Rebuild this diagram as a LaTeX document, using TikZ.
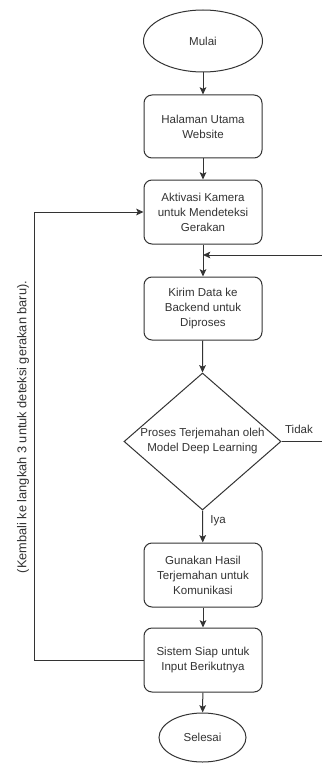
\documentclass[tikz,border=0pt]{standalone}
\usepackage{fontspec}
\setmainfont{Liberation Sans}
\usetikzlibrary{shapes.geometric,arrows.meta}
\definecolor{ln}{HTML}{333333}
\definecolor{tx}{HTML}{333333}
\begin{document}
\begin{tikzpicture}[x=0.75pt,y=-0.75pt,
  every node/.style={font=\fontsize{8.65}{11.25}\selectfont, text=tx},
  procbox/.style={draw=ln, line width=0.75pt, rounded corners=6pt, minimum width=88.5pt, minimum height=48pt, align=center, inner sep=0pt},
  term/.style={draw=ln, line width=0.75pt, ellipse, inner sep=0pt, align=center},
  conn/.style={draw=ln, line width=0.75pt},
  arr/.style={conn, -{Stealth[length=5.5pt,width=5pt,inset=1.2pt]}}]
\useasboundingbox (0,0) rectangle (321,763);
\fill[white] (0,0) rectangle (321,763);
\node[term, minimum width=89.25pt, minimum height=46.5pt] (mulai) at (203,41) {Mulai};
\node[procbox, minimum height=47.25pt] (hal) at (203,126.5) {Halaman Utama\\Website};
\node[procbox] (akt) at (203,212) {Aktivasi Kamera\\untuk Mendeteksi\\Gerakan};
\node[procbox, minimum height=47.25pt] (kir) at (203,308.5) {Kirim Data ke\\Backend untuk\\Diproses};
\node[diamond, draw=ln, line width=0.75pt, minimum width=117.75pt, minimum height=102.75pt, inner sep=0pt] (dec) at (202.5,441.5) {};
\node[align=center] (dectext) at (202.5,441.5) {Proses Terjemahan oleh\\Model Deep Learning};
\node[procbox] (gun) at (203,575) {Gunakan Hasil\\Terjemahan untuk\\Komunikasi};
\node[procbox] (sis) at (203,660) {Sistem Siap untuk\\Input Berikutnya};
\node[term, minimum width=65.25pt, minimum height=36.75pt] (sel) at (202.5,737.5) {Selesai};
\node (tidak) at (299,429) {Tidak};
\node (iya) at (218,521) {Iya};
\node[rotate=90, font=\fontsize{9.6}{11.5}\selectfont] (kembali) at (23,427) {(Kembali ke langkah 3 untuk deteksi gerakan baru).};
\coordinate (r1) at (330,441.5);
\coordinate (r2) at (330,255);
\coordinate (m1) at (203,255);
\coordinate (l1) at (34,660);
\coordinate (l2) at (34,212);
\draw[arr] (mulai) -- (hal);
\draw[arr] (hal) -- (akt);
\draw[arr] (akt) -- (kir);
\draw[arr] (kir) -- (dec.north);
\draw[arr] (dec.south) -- (gun);
\draw[arr] (gun) -- (sis);
\draw[arr] (sis) -- (sel);
\draw[arr] (dec.east) -- (r1) -- (r2) -- (m1);
\draw[arr] (sis.west) -- (l1) -- (l2) -- (akt.west);
\end{tikzpicture}
\end{document}
